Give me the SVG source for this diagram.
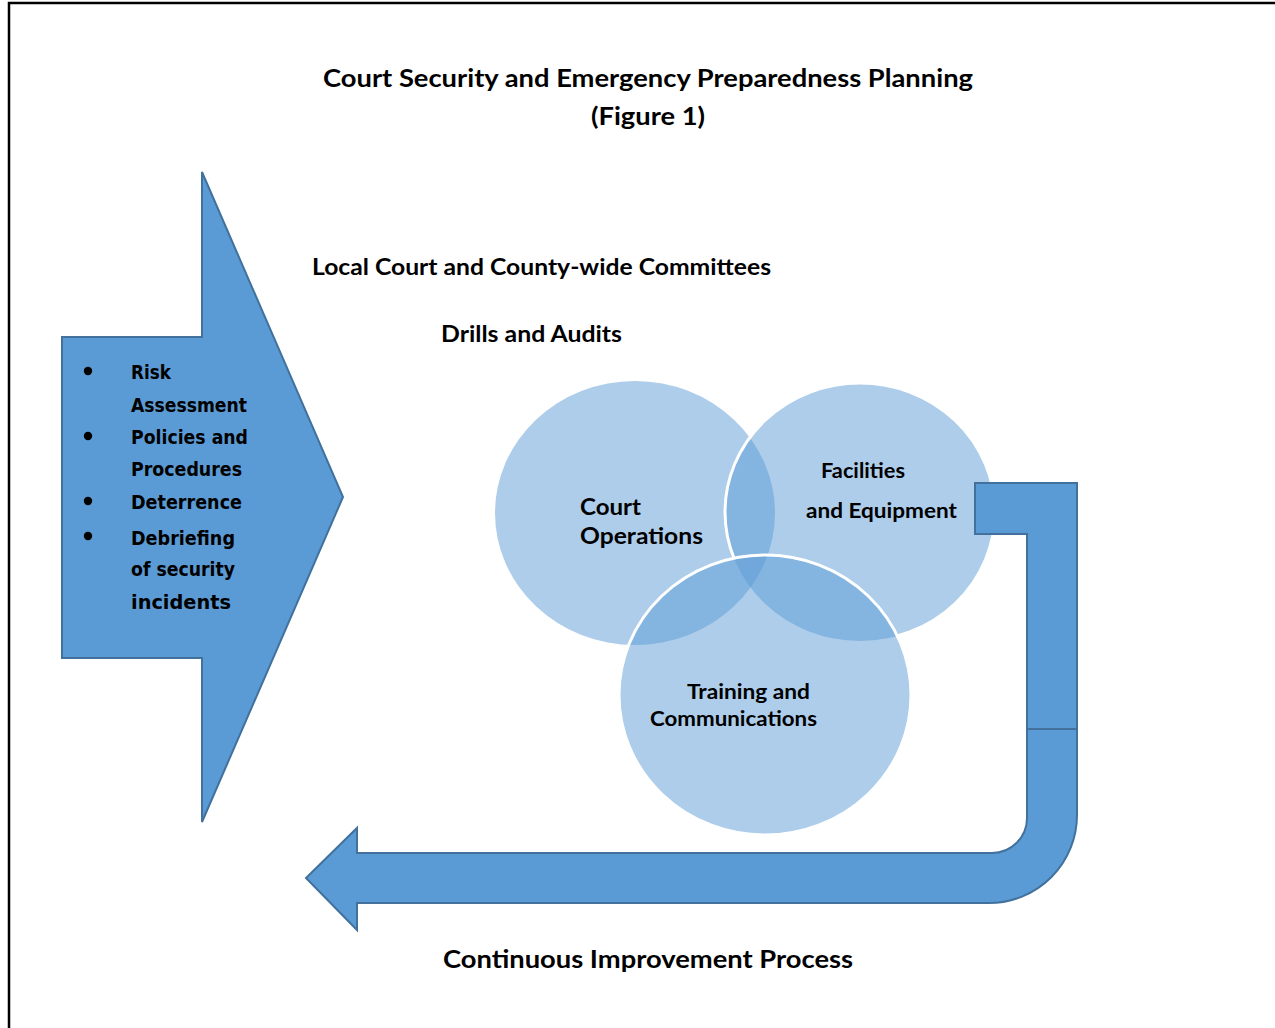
<svg xmlns="http://www.w3.org/2000/svg" width="1275" height="1028" viewBox="0 0 1275 1028">
  <style>
    .t { font-family: Lato, "Open Sans", "Liberation Sans", sans-serif; font-weight: bold; fill: #000; }
    .b { font-family: "DejaVu Sans", Verdana, sans-serif; font-weight: bold; fill: #000; font-size: 19.5px; }
    .arrow { fill: #5B9BD5; stroke: #41719C; stroke-width: 2; stroke-linejoin: miter; }
    .venn { fill: #5B9BD5; fill-opacity: 0.5; }
    .ring { fill: none; stroke: #fff; stroke-width: 3; }
  </style>
  <defs>
    <mask id="outsideTraining">
      <rect x="0" y="0" width="1275" height="1028" fill="#fff"/>
      <ellipse cx="765" cy="695" rx="146" ry="140" fill="#000"/>
    </mask>
  </defs>

  <rect width="1275" height="1028" fill="#fff"/>
  <!-- page frame -->
  <rect x="9" y="3" width="1290" height="1050" fill="none" stroke="#000" stroke-width="2.5"/>

  <!-- titles -->
  <g id="title">
    <text class="t" x="648" y="87" font-size="24" text-anchor="middle" textLength="650" lengthAdjust="spacingAndGlyphs">Court Security and Emergency Preparedness Planning</text>
    <text class="t" x="648" y="125" font-size="24" text-anchor="middle" textLength="114" lengthAdjust="spacingAndGlyphs">(Figure 1)</text>
  </g>
  <g id="committees">
    <text class="t" x="312" y="275" font-size="22" textLength="459" lengthAdjust="spacingAndGlyphs">Local Court and County-wide Committees</text>
  </g>
  <g id="drills">
    <text class="t" x="441" y="342" font-size="22" textLength="181" lengthAdjust="spacingAndGlyphs">Drills and Audits</text>
  </g>

  <!-- left block arrow with the planning activities -->
  <g id="activities">
    <polygon class="arrow" points="62,337 202,337 202,172 343,497 202,822 202,658 62,658"/>
    <g fill="#000">
      <circle cx="88" cy="371" r="4.2"/>
      <circle cx="88" cy="436" r="4.2"/>
      <circle cx="88" cy="501" r="4.2"/>
      <circle cx="88" cy="536" r="4.2"/>
    </g>
    <text class="b" x="131" y="379" textLength="40" lengthAdjust="spacingAndGlyphs">Risk</text>
    <text class="b" x="131" y="412" textLength="116" lengthAdjust="spacingAndGlyphs">Assessment</text>
    <text class="b" x="131" y="444" textLength="117" lengthAdjust="spacingAndGlyphs">Policies and</text>
    <text class="b" x="131" y="476" textLength="111" lengthAdjust="spacingAndGlyphs">Procedures</text>
    <text class="b" x="131" y="509" textLength="111" lengthAdjust="spacingAndGlyphs">Deterrence</text>
    <text class="b" x="131" y="545" textLength="104" lengthAdjust="spacingAndGlyphs">Debriefing</text>
    <text class="b" x="131" y="576" textLength="104" lengthAdjust="spacingAndGlyphs">of security</text>
    <text class="b" x="131" y="609" font-size="21" textLength="100" lengthAdjust="spacingAndGlyphs">incidents</text>
  </g>

  <!-- Venn circles -->
  <g id="court-operations">
    <ellipse class="venn" cx="635" cy="513" rx="140" ry="132"/>
  </g>
  <g id="facilities-equipment">
    <ellipse class="venn" cx="860" cy="512" rx="135" ry="129"/>
    <ellipse class="ring" cx="860" cy="512" rx="135" ry="129" mask="url(#outsideTraining)"/>
  </g>
  <g id="training-communications">
    <ellipse class="venn" cx="765" cy="695" rx="146" ry="140"/>
    <ellipse class="ring" cx="765" cy="695" rx="146" ry="140"/>
  </g>
  <g id="venn-labels">
    <text class="t" x="580" y="515" font-size="23" textLength="61" lengthAdjust="spacingAndGlyphs">Court</text>
    <text class="t" x="580" y="544" font-size="23" textLength="123" lengthAdjust="spacingAndGlyphs">Operations</text>
    <text class="t" x="821" y="478" font-size="21" textLength="84" lengthAdjust="spacingAndGlyphs">Facilities</text>
    <text class="t" x="806" y="518" font-size="21" textLength="151" lengthAdjust="spacingAndGlyphs">and Equipment</text>
    <text class="t" x="687" y="699" font-size="20" textLength="123" lengthAdjust="spacingAndGlyphs">Training and</text>
    <text class="t" x="650" y="726" font-size="20" textLength="167" lengthAdjust="spacingAndGlyphs">Communications</text>
  </g>

  <!-- feedback loop arrow -->
  <g id="connectors">
    <polygon class="arrow" points="975,483 1077,483 1077,729 1027,729 1027,534 975,534"/>
    <path class="arrow" d="M1027,729 L1077,729 L1077,815 A88,88 0 0 1 989,903 L357,903 L357,930 L306,878 L357,828 L357,853 L992,853 A35,35 0 0 0 1027,818 Z"/>
  </g>

  <g id="process-label">
    <text class="t" x="443" y="968" font-size="24" textLength="410" lengthAdjust="spacingAndGlyphs">Continuous Improvement Process</text>
  </g>
</svg>
